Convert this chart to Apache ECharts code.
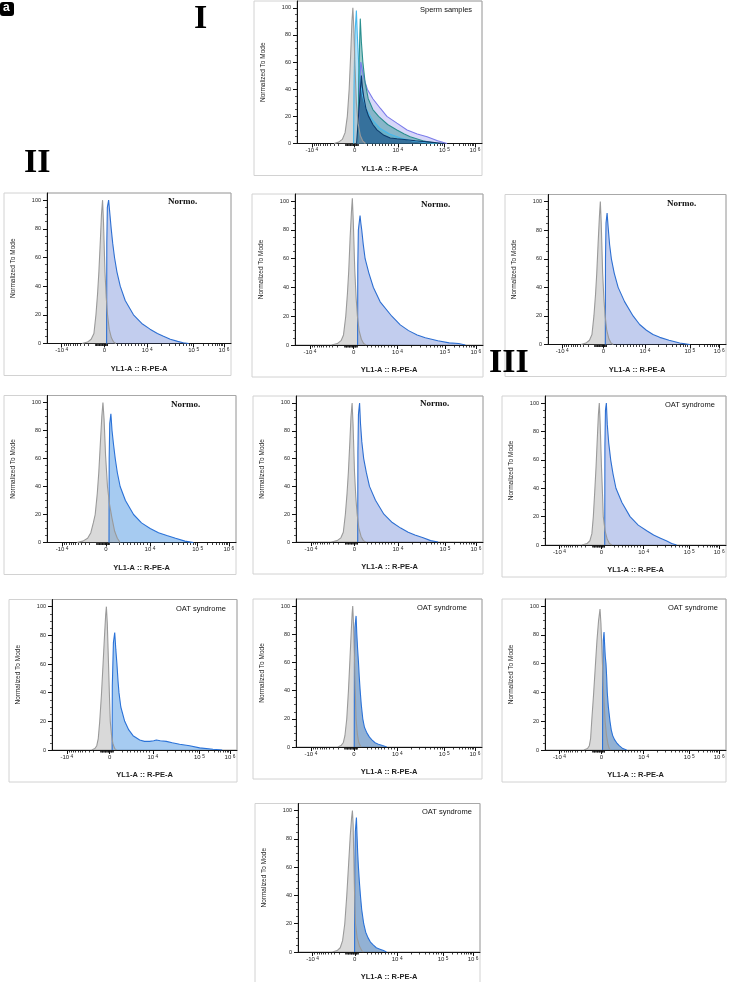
<!DOCTYPE html>
<html><head><meta charset="utf-8">
<script src="https://cdn.jsdelivr.net/npm/echarts@6/dist/echarts.min.js"></script>
<style>html,body{margin:0;padding:0;background:#fff}#c{width:730px;height:982px}</style>
</head><body><div id="c"></div>
<script>
// ---- axis ticks / labels (x in display channel units 0..1000) ----
const xTickPos = [80, 312, 545, 797, 962];
const xTickBase = ['-10', '0', '10', '10', '10'];
const xTickExp = ['4', '', '4', '5', '6'];
const xMinorPos = [92,104,116,128,140,152,165,180,200,225,
  262,266,270,274,278,282,286,290,294,298,302,306,310,314,318,322,326,330,
  382,405,425,443,460,477,494,511,528,
  621,665,697,721,741,758,773,785,
  847,876,896,912,925,936,946,954];
const yTickVals = [0, 20, 40, 60, 80, 100];
const yMinorVals = [5,10,15,25,30,35,45,50,55,65,70,75,85,90,95];
const panelTitles = ['Sperm samples','Normo.','Normo.','Normo.','Normo.','Normo.','OAT syndrome','OAT syndrome','OAT syndrome','OAT syndrome','OAT syndrome'];
const xTitle = 'YL1-A :: R-PE-A';
const yTitle = 'Normalized To Mode';
const sectionLabels = ['I', 'II', 'III'];

// ---- panel I : sperm samples overlay ----
const ctrlI = [[200,0],[225,1],[245,3],[260,8],[272,20],[282,40],[290,65],[297,90],[302,100],[307,85],[314,55],[321,30],[330,15],[342,6],[355,2],[370,0]];
const cyanI = [[306,0],[308,40],[313,80],[321,98],[326,80],[333,60],[342,45],[355,35],[375,25],[410,17],[450,11],[500,7],[560,4],[620,2],[700,0.5],[760,0]];
const tealI = [[330,0],[334,50],[342,92],[348,75],[356,60],[368,45],[385,33],[410,25],[441,20],[490,14],[540,10],[580,7],[612,5],[680,2],[757,0]];
const navyI = [[322,0],[330,15],[340,35],[348,50],[353,42],[360,35],[372,26],[387,20],[410,14],[432,10],[470,6],[504,4],[540,3.5],[580,3],[640,2],[720,1],[792,0]];
const lavI = [[330,0],[338,40],[345,60],[352,55],[362,48],[380,40],[410,33],[450,26],[486,20],[540,15],[595,10],[650,7],[703,5],[760,2],[811,0]];

// ---- Normo. panels ----
const ctrlII1 = [[190,0],[220,1],[240,3],[255,7],[266,20],[275,35],[282,50],[290,72],[296,90],[302,100],[307,85],[315,50],[322,32],[329,20],[338,10],[350,4],[362,1],[375,0]];
const stainII1 = [[324,0],[325,70],[328,95],[335,100],[342,90],[349,80],[357,70],[367,60],[380,50],[398,40],[425,30],[470,20],[515,14],[560,10],[600,7],[633,5],[670,3],[710,1.5],[740,0.5],[770,0]];
const ctrlII2 = [[195,0],[225,1],[245,3],[258,7],[270,20],[279,36],[286,52],[293,74],[300,92],[305,102],[310,86],[318,52],[325,33],[332,20],[341,10],[353,4],[365,1],[378,0]];
const stainII2 = [[333,0],[334,55],[337,80],[346,90],[350,85],[355,80],[363,70],[373,60],[393,50],[417,40],[453,30],[515,20],[560,14],[604,10],[650,7],[693,5],[760,3],[820,1.5],[870,1],[906,0]];
const ctrlII3 = [[185,0],[213,1],[233,3],[247,7],[258,20],[267,35],[274,50],[282,72],[289,90],[294,100],[299,85],[307,50],[314,32],[321,20],[330,10],[342,4],[354,1],[367,0]];
const stainII3 = [[322,0],[323,60],[326,85],[332,92],[338,82],[346,70],[356,60],[372,50],[394,40],[430,30],[478,20],[515,14],[553,10],[590,7],[628,5],[680,3],[740,1],[797,0]];
const ctrlR21 = [[158,0],[190,1],[215,3],[232,7],[245,14],[255,20],[266,35],[274,50],[282,70],[290,90],[296,100],[302,88],[310,62],[320,40],[330,28],[343,18],[358,8],[372,3],[387,0]];
const stainR21 = [[328,0],[329,60],[332,85],[338,92],[344,80],[352,70],[361,60],[372,50],[387,40],[415,30],[458,20],[500,14],[546,10],[590,7],[634,5],[680,3],[730,1],[775,0]];
const ctrlR22 = [[190,0],[220,1],[240,3],[253,7],[264,20],[273,35],[280,50],[288,72],[294,90],[300,100],[305,85],[313,50],[320,32],[327,20],[336,10],[348,4],[360,1],[373,0]];
const stainR22 = [[330,0],[331,65],[334,92],[340,100],[345,85],[352,72],[362,60],[376,50],[393,40],[425,30],[470,20],[515,14],[560,10],[600,7],[636,5],[680,3],[720,1],[760,0]];

// ---- OAT syndrome panels ----
const ctrlR23 = [[205,0],[232,1],[248,3],[259,8],[267,20],[275,38],[282,55],[289,75],[295,92],[300,100],[305,85],[312,55],[318,35],[322,20],[332,10],[344,4],[356,1],[370,0]];
const stainR23 = [[330,0],[331,70],[334,95],[339,100],[344,85],[352,72],[363,60],[376,50],[392,40],[425,30],[470,20],[515,14],[562,10],[600,7],[635,5],[670,3],[700,1],[727,0]];
const ctrlR31 = [[215,0],[232,1],[242,3],[250,8],[258,20],[267,38],[276,60],[284,80],[290,94],[294,100],[299,88],[305,62],[310,40],[315,20],[322,10],[330,4],[339,1],[348,0]];
const stainR31 = [[325,0],[326,45],[332,75],[339,82],[345,70],[351,60],[357,48],[362,40],[372,30],[393,20],[415,14],[438,10],[474,7],[500,6],[528,6],[550,6.5],[564,7],[585,6.5],[618,6],[650,5],[690,4],[744,3],[798,1.5],[870,0.5],[920,0]];
const ctrlR32 = [[225,0],[242,1],[254,3],[263,8],[273,20],[282,40],[290,62],[297,82],[302,95],[305,100],[309,88],[314,65],[318,42],[323,20],[330,9],[338,3],[345,1],[352,0]];
const stainR32 = [[313,0],[314,60],[317,85],[323,93],[327,80],[331,70],[336,60],[340,50],[345,40],[351,30],[359,20],[368,14],[381,10],[395,7],[408,5],[425,3],[443,2],[465,1],[488,0]];
const ctrlR33 = [[215,0],[235,1],[245,3],[252,8],[258,20],[268,38],[278,58],[287,76],[296,90],[304,98],[309,88],[315,68],[322,45],[332,20],[340,10],[348,4],[355,1],[362,0]];
const stainR33 = [[318,0],[319,55],[322,76],[326,82],[330,72],[333,65],[337,60],[341,50],[344,40],[350,30],[359,20],[366,14],[374,10],[385,7],[396,5],[410,3],[430,1],[451,0]];
const ctrlR4 = [[190,0],[215,1],[232,3],[245,8],[257,20],[268,40],[278,62],[287,82],[294,94],[299,100],[303,90],[307,65],[311,40],[316,20],[325,10],[338,4],[350,1],[360,0]];
const stainR4 = [[311,0],[312,60],[315,85],[321,95],[325,80],[328,70],[332,60],[337,50],[343,40],[350,30],[361,20],[372,14],[385,10],[398,7],[413,5],[430,3],[450,2],[470,1],[486,0]];

// ---- layout (pixels) ----
const layout = [
  {l:297, t:1,     w:185, h:142.5, tx:420, ty:6},
  {l:47,  t:193,   w:184, h:150.5, tx:168, ty:197},
  {l:295, t:194,   w:188, h:151,   tx:421, ty:200},
  {l:548, t:194.5, w:178, h:150,   tx:667, ty:199},
  {l:47,  t:395.5, w:189, h:147,   tx:171, ty:400},
  {l:296, t:396,   w:187, h:146,   tx:420, ty:399},
  {l:545, t:396,   w:181, h:149,   tx:665, ty:401},
  {l:52,  t:599.5, w:185, h:150.5, tx:176, ty:605},
  {l:296, t:599,   w:186, h:148,   tx:417, ty:604},
  {l:545, t:599,   w:181, h:151,   tx:668, ty:604},
  {l:298, t:803.5, w:182, h:149,   tx:422, ty:808}
];

const GRAY = {line:'#9a9a9a', fill:'rgba(165,165,165,0.6)'};
const PERI = {line:'#2d6fd2', fill:'rgba(95,125,210,0.55)'};
const SKY  = {line:'#2a72d8', fill:'rgba(60,140,225,0.65)'};
const STEEL= {line:'#2a72d8', fill:'rgba(40,100,170,0.72)'};

const panelSeries = [
  [[lavI,{line:'#7b7bea',fill:'rgba(130,130,235,0.45)'}],[cyanI,{line:'#45b8ee',fill:'rgba(79,190,245,0.6)'}],[tealI,{line:'#2a8f8f',fill:'rgba(42,143,143,0.65)'}],[navyI,{line:'#0d3a6b',fill:'rgba(20,70,125,0.85)'}],[ctrlI,GRAY]],
  [[stainII1,PERI],[ctrlII1,GRAY]],
  [[stainII2,PERI],[ctrlII2,GRAY]],
  [[stainII3,PERI],[ctrlII3,GRAY]],
  [[stainR21,SKY],[ctrlR21,GRAY]],
  [[stainR22,PERI],[ctrlR22,GRAY]],
  [[stainR23,PERI],[ctrlR23,GRAY]],
  [[stainR31,SKY],[ctrlR31,GRAY]],
  [[stainR32,STEEL],[ctrlR32,GRAY]],
  [[stainR33,STEEL],[ctrlR33,GRAY]],
  [[stainR4,STEEL],[ctrlR4,GRAY]]
];

const grid = [], xAxis = [], yAxis = [], series = [], graphic = [];
const SANS = 'Liberation Sans, Arial, sans-serif';

layout.forEach((p, i) => {
  grid.push({left:p.l, top:p.t, width:p.w, height:p.h, show:true, borderColor:'#a8a8a8', borderWidth:1});
  xAxis.push({
    gridIndex:i, type:'value', min:0, max:1000, position:'bottom',
    axisLine:{show:true, onZero:false, lineStyle:{color:'#111', width:1}},
    axisTick:{show:true, customValues:xTickPos, length:4, lineStyle:{color:'#111', width:1}},
    axisLabel:{show:true, customValues:xTickPos, margin:4, color:'#222',
      formatter:(v) => { const k = xTickPos.indexOf(v); if (k < 0) return ''; return xTickExp[k] ? '{b|' + xTickBase[k] + '}{s|' + xTickExp[k] + '}' : '{b|' + xTickBase[k] + '}'; },
      rich:{b:{fontSize:6, fontFamily:SANS, color:'#222', verticalAlign:'bottom', lineHeight:6},
            s:{fontSize:4.8, fontFamily:SANS, color:'#222', verticalAlign:'top', lineHeight:5, padding:[0,0,3,1.5]}}},
    splitLine:{show:false},
    name:xTitle, nameLocation:'middle', nameGap:21,
    nameTextStyle:{fontSize:7.5, fontFamily:SANS, color:'#222', fontWeight:'bold'}
  });
  xAxis.push({
    gridIndex:i, type:'value', min:0, max:1000, position:'bottom',
    axisLine:{show:false}, axisLabel:{show:false}, splitLine:{show:false},
    axisTick:{show:true, customValues:xMinorPos, length:2.5, lineStyle:{color:'#111', width:0.8}}
  });
  yAxis.push({
    gridIndex:i, type:'value', min:0, max:105, position:'left',
    axisLine:{show:true, onZero:false, lineStyle:{color:'#111', width:1}},
    axisTick:{show:true, customValues:yTickVals, length:4, lineStyle:{color:'#111'}},
    axisLabel:{show:true, customValues:yTickVals, fontSize:5.5, fontFamily:SANS, color:'#222', margin:6},
    splitLine:{show:false},
    name:yTitle, nameLocation:'middle', nameGap:30, nameRotate:90,
    nameTextStyle:{fontSize:6.5, fontFamily:SANS, color:'#222'}
  });
  yAxis.push({
    gridIndex:i, type:'value', min:0, max:105, position:'left',
    axisLine:{show:false}, axisLabel:{show:false}, splitLine:{show:false},
    axisTick:{show:true, customValues:yMinorVals, length:2, lineStyle:{color:'#111', width:0.7}}
  });
  panelSeries[i].forEach(([data, col]) => {
    series.push({type:'line', xAxisIndex:2*i, yAxisIndex:2*i, data:data, symbol:'none', silent:true,
      lineStyle:{color:col.line, width:1.1}, areaStyle:{color:col.fill, origin:0}, animation:false});
  });
  // outer frame
  graphic.push({type:'rect', silent:true, z:-1, shape:{x:p.l-43, y:p.t, width:p.w+43, height:p.h+32},
    style:{fill:'none', stroke:'#d2d2d2', lineWidth:1}});
  const serif = panelTitles[i] === 'Normo.';
  graphic.push({type:'text', left:p.tx, top:p.ty, z:10, style:{text:panelTitles[i],
    font: serif ? 'bold 9px "Liberation Serif", serif' : '7.5px "Liberation Sans", Arial, sans-serif', fill:'#111'}});
});

// section labels
const secPos = [[194,2],[24,146],[489,346]];
sectionLabels.forEach((s, k) => {
  graphic.push({type:'text', left:secPos[k][0], top:secPos[k][1], z:10,
    style:{text:s, font:'bold 34px "Liberation Serif", serif', fill:'#000'}});
});
// panel badge
graphic.push({type:'rect', left:0, top:2, z:10, shape:{width:14, height:14, r:3}, style:{fill:'#000'}});
graphic.push({type:'text', left:3, top:2, z:11, style:{text:'a', font:'bold 12px "Liberation Sans", sans-serif', fill:'#fff'}});

const chart = echarts.init(document.getElementById('c'), null, {renderer:'canvas'});
chart.setOption({animation:false, backgroundColor:'#fff', grid, xAxis, yAxis, series, graphic});
</script>
</body></html>
